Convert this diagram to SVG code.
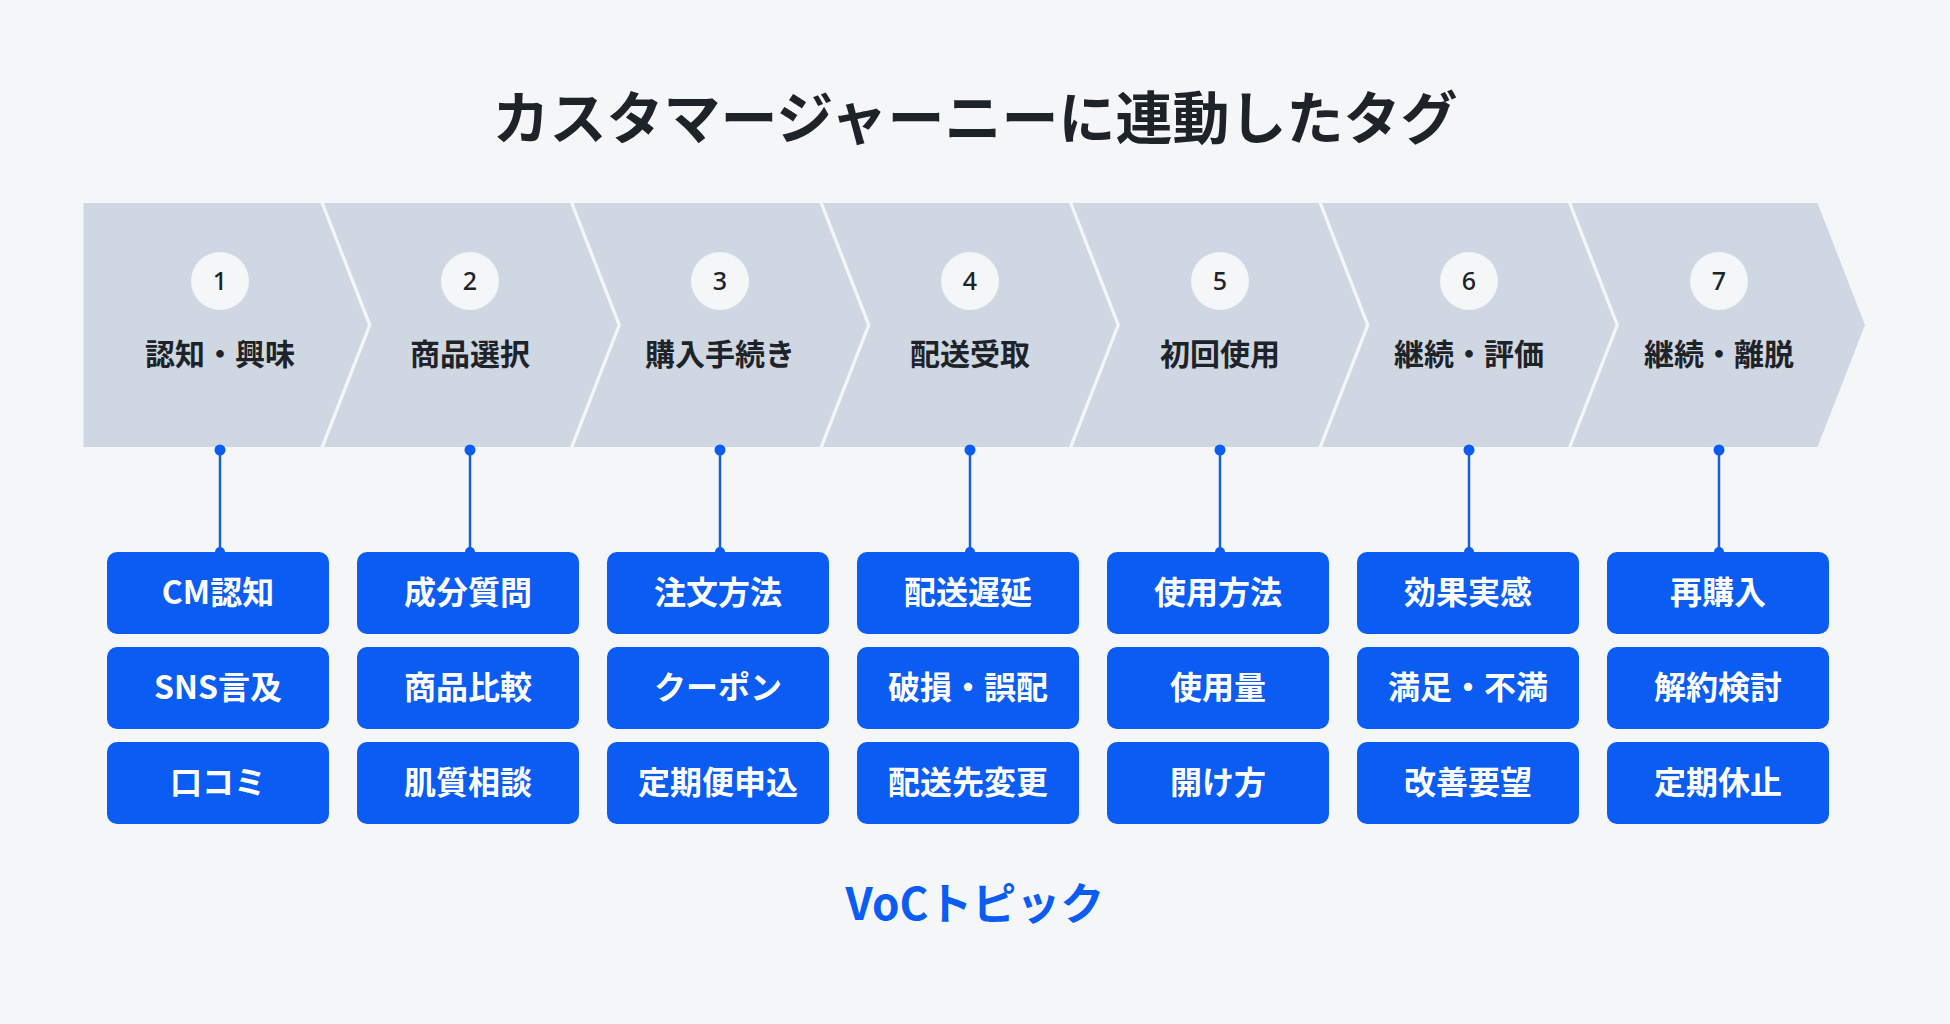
<svg xmlns="http://www.w3.org/2000/svg" width="1950" height="1024" viewBox="0 0 1950 1024">
<style>
  .bg{fill:#f4f6f7}
  .chev{fill:#cfd8e2}
  .num-c{fill:#f4f6f7}
  .num{font-family:"Noto Sans","Noto Sans CJK JP",sans-serif;font-size:25px;font-weight:500;fill:#1e2329;text-anchor:middle}
  .stage{font-family:"Noto Sans CJK JP",sans-serif;font-size:30px;font-weight:700;fill:#1e2329;text-anchor:middle}
  .box{fill:#0b5cf2}
  .tag{font-family:"Noto Sans CJK JP",sans-serif;font-size:32px;font-weight:700;fill:#ffffff;text-anchor:middle}
  .title{font-family:"Noto Sans CJK JP",sans-serif;font-size:57px;font-weight:700;fill:#1e2329;text-anchor:middle}
  .voc{font-family:"Noto Sans CJK JP",sans-serif;font-size:44px;font-weight:700;fill:#0b5cf2;text-anchor:middle}
  .line{stroke:#1c5fd0;stroke-width:2.5;fill:none}
  .dot{fill:#0b5cf2}
</style>
<rect class="bg" x="0" y="0" width="1950" height="1024"/>
<text id="title" class="title" x="975" y="139">カスタマージャーニーに連動したタグ</text>

<g id="stage1"><polygon class="chev" points="83.5,203 320.5,203 368,325 320.5,447 83.5,447"/><circle class="num-c" cx="220" cy="281" r="29"/><text class="num" x="220" y="290">1</text><text class="stage" x="220" y="365">認知・興味</text></g>
<g id="stage2"><polygon class="chev" points="324,203 570,203 617.5,325 570,447 324,447 371.5,325"/><circle class="num-c" cx="470" cy="281" r="29"/><text class="num" x="470" y="290">2</text><text class="stage" x="470" y="365">商品選択</text></g>
<g id="stage3"><polygon class="chev" points="573.5,203 819.5,203 867,325 819.5,447 573.5,447 621,325"/><circle class="num-c" cx="720" cy="281" r="29"/><text class="num" x="720" y="290">3</text><text class="stage" x="720" y="365">購入手続き</text></g>
<g id="stage4"><polygon class="chev" points="823,203 1069,203 1116.5,325 1069,447 823,447 870.5,325"/><circle class="num-c" cx="970" cy="281" r="29"/><text class="num" x="970" y="290">4</text><text class="stage" x="970" y="365">配送受取</text></g>
<g id="stage5"><polygon class="chev" points="1072.5,203 1318.5,203 1366,325 1318.5,447 1072.5,447 1120,325"/><circle class="num-c" cx="1220" cy="281" r="29"/><text class="num" x="1220" y="290">5</text><text class="stage" x="1220" y="365">初回使用</text></g>
<g id="stage6"><polygon class="chev" points="1322,203 1568,203 1615.5,325 1568,447 1322,447 1369.5,325"/><circle class="num-c" cx="1469" cy="281" r="29"/><text class="num" x="1469" y="290">6</text><text class="stage" x="1469" y="365">継続・評価</text></g>
<g id="stage7"><polygon class="chev" points="1571.5,203 1817.5,203 1865,325 1817.5,447 1571.5,447 1619,325"/><circle class="num-c" cx="1719" cy="281" r="29"/><text class="num" x="1719" y="290">7</text><text class="stage" x="1719" y="365">継続・離脱</text></g>

<g id="connectors">
  <line class="line" x1="220" y1="450" x2="220" y2="552"/><circle class="dot" cx="220" cy="450" r="5.5"/><circle class="dot" cx="220" cy="552" r="5"/>
  <line class="line" x1="470" y1="450" x2="470" y2="552"/><circle class="dot" cx="470" cy="450" r="5.5"/><circle class="dot" cx="470" cy="552" r="5"/>
  <line class="line" x1="720" y1="450" x2="720" y2="552"/><circle class="dot" cx="720" cy="450" r="5.5"/><circle class="dot" cx="720" cy="552" r="5"/>
  <line class="line" x1="970" y1="450" x2="970" y2="552"/><circle class="dot" cx="970" cy="450" r="5.5"/><circle class="dot" cx="970" cy="552" r="5"/>
  <line class="line" x1="1220" y1="450" x2="1220" y2="552"/><circle class="dot" cx="1220" cy="450" r="5.5"/><circle class="dot" cx="1220" cy="552" r="5"/>
  <line class="line" x1="1469" y1="450" x2="1469" y2="552"/><circle class="dot" cx="1469" cy="450" r="5.5"/><circle class="dot" cx="1469" cy="552" r="5"/>
  <line class="line" x1="1719" y1="450" x2="1719" y2="552"/><circle class="dot" cx="1719" cy="450" r="5.5"/><circle class="dot" cx="1719" cy="552" r="5"/>
</g>

<g id="tags1">
  <rect class="box" x="107" y="552" width="222" height="82" rx="10"/><text class="tag" x="218" y="604">CM認知</text>
  <rect class="box" x="107" y="647" width="222" height="82" rx="10"/><text class="tag" x="218" y="699">SNS言及</text>
  <rect class="box" x="107" y="742" width="222" height="82" rx="10"/><text class="tag" x="218" y="794">口コミ</text>
</g>
<g id="tags2">
  <rect class="box" x="357" y="552" width="222" height="82" rx="10"/><text class="tag" x="468" y="604">成分質問</text>
  <rect class="box" x="357" y="647" width="222" height="82" rx="10"/><text class="tag" x="468" y="699">商品比較</text>
  <rect class="box" x="357" y="742" width="222" height="82" rx="10"/><text class="tag" x="468" y="794">肌質相談</text>
</g>
<g id="tags3">
  <rect class="box" x="607" y="552" width="222" height="82" rx="10"/><text class="tag" x="718" y="604">注文方法</text>
  <rect class="box" x="607" y="647" width="222" height="82" rx="10"/><text class="tag" x="718" y="699">クーポン</text>
  <rect class="box" x="607" y="742" width="222" height="82" rx="10"/><text class="tag" x="718" y="794">定期便申込</text>
</g>
<g id="tags4">
  <rect class="box" x="857" y="552" width="222" height="82" rx="10"/><text class="tag" x="968" y="604">配送遅延</text>
  <rect class="box" x="857" y="647" width="222" height="82" rx="10"/><text class="tag" x="968" y="699">破損・誤配</text>
  <rect class="box" x="857" y="742" width="222" height="82" rx="10"/><text class="tag" x="968" y="794">配送先変更</text>
</g>
<g id="tags5">
  <rect class="box" x="1107" y="552" width="222" height="82" rx="10"/><text class="tag" x="1218" y="604">使用方法</text>
  <rect class="box" x="1107" y="647" width="222" height="82" rx="10"/><text class="tag" x="1218" y="699">使用量</text>
  <rect class="box" x="1107" y="742" width="222" height="82" rx="10"/><text class="tag" x="1218" y="794">開け方</text>
</g>
<g id="tags6">
  <rect class="box" x="1357" y="552" width="222" height="82" rx="10"/><text class="tag" x="1468" y="604">効果実感</text>
  <rect class="box" x="1357" y="647" width="222" height="82" rx="10"/><text class="tag" x="1468" y="699">満足・不満</text>
  <rect class="box" x="1357" y="742" width="222" height="82" rx="10"/><text class="tag" x="1468" y="794">改善要望</text>
</g>
<g id="tags7">
  <rect class="box" x="1607" y="552" width="222" height="82" rx="10"/><text class="tag" x="1718" y="604">再購入</text>
  <rect class="box" x="1607" y="647" width="222" height="82" rx="10"/><text class="tag" x="1718" y="699">解約検討</text>
  <rect class="box" x="1607" y="742" width="222" height="82" rx="10"/><text class="tag" x="1718" y="794">定期休止</text>
</g>

<text id="voc-label" class="voc" x="975" y="920">VoCトピック</text>
</svg>
